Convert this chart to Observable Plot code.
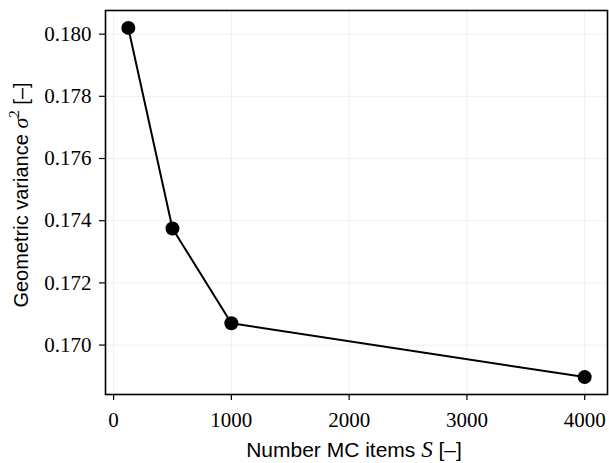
<!DOCTYPE html>
<html>
<head>
<meta charset="utf-8">
<script src="https://cdn.jsdelivr.net/npm/d3@7"></script>
<script src="https://cdn.jsdelivr.net/npm/@observablehq/plot@0.6"></script>
<style>
  html, body { margin: 0; padding: 0; background: white; }
  #chart { width: 609px; height: 463px; }
</style>
</head>
<body>
<div id="chart"></div>
<script>
// Data
const samples = [125, 500, 1000, 4000];
const variance = [0.18020, 0.17375, 0.17070, 0.16897];
const xTicks = [0, 1000, 2000, 3000, 4000];
const yTicks = [0.170, 0.172, 0.174, 0.176, 0.178, 0.180];

const data = samples.map((s, i) => ({S: s, v: variance[i]}));

const W = 609, H = 463;
const mL = 105, mR = 2, mT = 10, mB = 69;

const plot = Plot.plot({
  width: W,
  height: H,
  marginLeft: mL,
  marginRight: mR,
  marginTop: mT,
  marginBottom: mB,
  style: {background: "white", fontFamily: "'Liberation Serif', serif", fontSize: "21px", color: "black"},
  x: {domain: [-68.75, 4193.75], label: null},
  y: {domain: [0.16841, 0.18076], label: null},
  marks: [
    Plot.gridX(xTicks, {stroke: "#ebebeb", strokeOpacity: 1, strokeWidth: 0.8}),
    Plot.gridY(yTicks, {stroke: "#ebebeb", strokeOpacity: 1, strokeWidth: 0.8}),
    Plot.axisX(xTicks, {tickSize: 6, tickPadding: 12, tickFormat: d3.format("d"), stroke: "black", strokeWidth: 1.2, fontSize: 21, label: null}),
    Plot.axisY(yTicks, {tickSize: 6, tickPadding: 8, tickFormat: d3.format(".3f"), stroke: "black", strokeWidth: 1.2, fontSize: 21, label: null}),
    Plot.line(data, {x: "S", y: "v", stroke: "black", strokeWidth: 2}),
    Plot.dot(data, {x: "S", y: "v", r: 7, fill: "black", stroke: "none"}),
    Plot.frame({stroke: "black", strokeWidth: 1.6})
  ]
});

document.getElementById("chart").appendChild(plot);

// Axis labels (sans text with math italic parts)
const svg = d3.select(plot);

const xl = svg.append("text")
  .attr("x", 354).attr("y", 457)
  .attr("text-anchor", "middle")
  .attr("font-family", "'Liberation Sans', sans-serif")
  .attr("font-size", 21)
  .attr("fill", "black");
xl.append("tspan").text("Number MC items ");
xl.append("tspan").attr("font-family", "'Liberation Serif', serif").attr("font-style", "italic").attr("font-size", 23).text("S");
xl.append("tspan").text(" [–]");

const yl = svg.append("text")
  .attr("transform", `translate(28,195) rotate(-90)`)
  .attr("text-anchor", "middle")
  .attr("font-family", "'Liberation Sans', sans-serif")
  .attr("font-size", 20)
  .attr("fill", "black");
yl.append("tspan").text("Geometric variance ");
yl.append("tspan").attr("font-family", "'Liberation Serif', serif").attr("font-style", "italic").attr("font-size", 22).text("σ");
yl.append("tspan").attr("font-family", "'Liberation Serif', serif").attr("font-size", 15).attr("dy", -9).text("2");
yl.append("tspan").attr("dy", 9).text(" [–]");
</script>
</body>
</html>
